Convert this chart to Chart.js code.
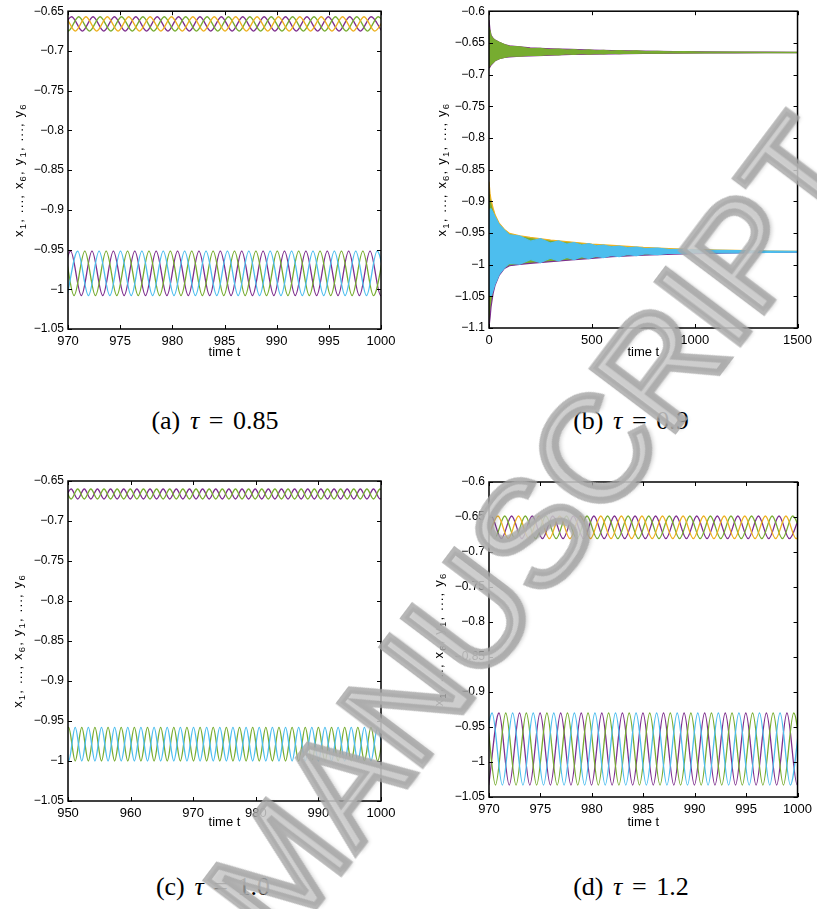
<!DOCTYPE html>
<html>
<head>
<meta charset="utf-8">
<script src="https://cdn.jsdelivr.net/npm/chart.js@4.4.1/dist/chart.umd.min.js"></script>
<style>
  body { margin: 0; background: #fff; width: 817px; height: 909px; position: relative; overflow: hidden; }
  canvas { position: absolute; }
  .cap { position: absolute; transform: translate(-50%, -50%); white-space: nowrap; word-spacing: 0.12em;
         font-family: "Liberation Serif", "DejaVu Serif", serif; font-size: 26px; color: #000; }
  .cap i { font-style: italic; }
  #stamp { position: absolute; left: 535px; top: 530px; pointer-events: none; white-space: nowrap;
           transform: translate(-50%, -50%) rotate(-53deg);
           font: 148px "Liberation Sans", Arial, sans-serif;
           color: rgba(205, 205, 205, 0.85);
           -webkit-text-stroke: 7px rgba(165, 165, 165, 0.8);
           text-shadow: 3px 4px 4px rgba(0, 0, 0, 0.2); }
</style>
</head>
<body>
<canvas id="pa" width="408" height="360" style="left:0;top:0"></canvas>
<canvas id="pb" width="407" height="360" style="left:410px;top:0"></canvas>
<canvas id="pc" width="408" height="390" style="left:0;top:440px"></canvas>
<canvas id="pd" width="407" height="390" style="left:410px;top:440px"></canvas>
<div class="cap" style="left:215px;top:421px">(a) <i>τ</i> = 0.85</div>
<div class="cap" style="left:631px;top:421px">(b) <i>τ</i> = 0.9</div>
<div class="cap" style="left:213px;top:887px">(c) <i>τ</i> = 1.0</div>
<div class="cap" style="left:631px;top:887px">(d) <i>τ</i> = 1.2</div>
<div id="stamp">MANUSCRIPT</div>
<script>
// ---- (a) tau = 0.85 : turning points (trough, peak, trough, ...) of each trace
const aXTicks = [970, 975, 980, 985, 990, 995, 1000];
const aYTicks = [-0.65, -0.7, -0.75, -0.8, -0.85, -0.9, -0.95, -1, -1.05];
const aTopLevels = [-0.657, -0.675];
const aBotLevels = [-0.952, -1.008];
const aTopPurple = [969.33, 970.35, 971.38, 972.40, 973.43, 974.45, 975.48, 976.50, 977.53, 978.55, 979.58, 980.60, 981.63, 982.65, 983.68, 984.70, 985.73, 986.75, 987.78, 988.80, 989.83, 990.85, 991.88, 992.90, 993.93, 994.95, 995.98, 997.00, 998.03, 999.05, 1000.08];
const aTopGreen = [967.96, 968.98, 970.01, 971.03, 972.06, 973.08, 974.11, 975.13, 976.16, 977.18, 978.21, 979.23, 980.26, 981.28, 982.31, 983.33, 984.36, 985.38, 986.41, 987.43, 988.46, 989.48, 990.51, 991.53, 992.56, 993.58, 994.61, 995.63, 996.66, 997.68, 998.71, 999.73, 1000.76];
const aTopYellow = [968.65, 969.67, 970.70, 971.72, 972.75, 973.77, 974.80, 975.82, 976.85, 977.87, 978.90, 979.92, 980.95, 981.97, 983.00, 984.02, 985.05, 986.07, 987.10, 988.12, 989.15, 990.17, 991.20, 992.22, 993.25, 994.27, 995.30, 996.32, 997.35, 998.37, 999.40, 1000.42];
const aBotPurple = [969.23, 970.25, 971.28, 972.30, 973.33, 974.35, 975.38, 976.40, 977.43, 978.45, 979.48, 980.50, 981.53, 982.55, 983.58, 984.60, 985.63, 986.65, 987.68, 988.70, 989.73, 990.75, 991.78, 992.80, 993.83, 994.85, 995.88, 996.90, 997.93, 998.95, 999.98, 1001.00];
const aBotCyan = [969.91, 970.93, 971.96, 972.98, 974.01, 975.03, 976.06, 977.08, 978.11, 979.13, 980.16, 981.18, 982.21, 983.23, 984.26, 985.28, 986.31, 987.33, 988.36, 989.38, 990.41, 991.43, 992.46, 993.48, 994.51, 995.53, 996.56, 997.58, 998.61, 999.63, 1000.66];
const aBotGreen = [968.54, 969.56, 970.58, 971.61, 972.63, 973.66, 974.68, 975.71, 976.73, 977.76, 978.78, 979.81, 980.83, 981.86, 982.88, 983.91, 984.93, 985.96, 986.98, 988.01, 989.03, 990.06, 991.08, 992.11, 993.13, 994.16, 995.18, 996.21, 997.23, 998.26, 999.28, 1000.31];

// ---- (b) tau = 0.9 : envelopes of the decaying oscillation
const bXTicks = [0, 500, 1000, 1500];
const bYTicks = [-0.6, -0.65, -0.7, -0.75, -0.8, -0.85, -0.9, -0.95, -1, -1.05, -1.1];
const bOuterT = [0, 5, 10, 20, 30, 50, 75, 100, 150, 200, 300, 400, 500, 600, 750, 900, 1050, 1200, 1350, 1500];
const bTopOuterHi = [-0.614, -0.630, -0.638, -0.643, -0.6457, -0.649, -0.6526, -0.6547, -0.6563, -0.658, -0.6594, -0.6604, -0.6615, -0.662, -0.6628, -0.6636, -0.6642, -0.6645, -0.6647, -0.665];
const bTopOuterLo = [-0.690, -0.688, -0.685, -0.6815, -0.678, -0.675, -0.673, -0.672, -0.671, -0.6705, -0.6694, -0.6683, -0.6678, -0.6673, -0.6668, -0.6662, -0.666, -0.6657, -0.6655, -0.6653];
const bBotOuterHi = [-0.869, -0.8876, -0.898, -0.911, -0.9218, -0.935, -0.9443, -0.9507, -0.9544, -0.957, -0.9612, -0.9644, -0.9675, -0.9696, -0.9728, -0.9749, -0.9765, -0.9775, -0.9785, -0.979];
const bBotOuterLo = [-1.098, -1.0847, -1.0664, -1.0453, -1.032, -1.0164, -1.0059, -1.0017, -0.9996, -0.998, -0.9953, -0.9927, -0.990, -0.9875, -0.985, -0.9833, -0.9822, -0.9814, -0.9807, -0.9801];
const bLensT = [0, 5, 10, 20, 30, 50, 75, 99, 150, 203, 250, 298, 338, 378, 414, 450, 485, 521, 557, 593, 633, 673, 717, 761, 820, 880, 950, 1024, 1200, 1350, 1500];
const bTopGreenHi = [-0.625, -0.632, -0.639, -0.6435, -0.646, -0.6492, -0.6528, -0.6555, -0.6564, -0.6595, -0.6588, -0.6608, -0.6598, -0.6615, -0.6606, -0.6622, -0.6612, -0.6627, -0.6618, -0.6631, -0.6622, -0.6634, -0.6626, -0.6637, -0.6632, -0.664, -0.6638, -0.6644, -0.6646, -0.6648, -0.665];
const bTopGreenLo = [-0.686, -0.686, -0.684, -0.681, -0.6778, -0.6748, -0.6728, -0.671, -0.6709, -0.6692, -0.6699, -0.668, -0.669, -0.6672, -0.6681, -0.6668, -0.6677, -0.6665, -0.6674, -0.6663, -0.6671, -0.6661, -0.6667, -0.666, -0.6663, -0.6659, -0.666, -0.6657, -0.6656, -0.6655, -0.6653];
const bBotCyanHi = [-0.915, -0.912, -0.912, -0.918, -0.925, -0.937, -0.9455, -0.953, -0.9548, -0.963, -0.959, -0.966, -0.9625, -0.9675, -0.9652, -0.969, -0.967, -0.9705, -0.969, -0.972, -0.9708, -0.9735, -0.9722, -0.9748, -0.974, -0.9762, -0.9758, -0.977, -0.9778, -0.9786, -0.979];
const bBotCyanLo = [-1.04, -1.05, -1.05, -1.04, -1.03, -1.015, -1.005, -0.998, -0.9994, -0.992, -0.9968, -0.990, -0.9942, -0.9885, -0.9922, -0.9875, -0.9905, -0.9865, -0.989, -0.9855, -0.9872, -0.984, -0.9858, -0.9828, -0.9842, -0.9818, -0.9828, -0.981, -0.9813, -0.9806, -0.9801];

// ---- (c) tau = 1.0
const cXTicks = [950, 960, 970, 980, 990, 1000];
const cYTicks = [-0.65, -0.7, -0.75, -0.8, -0.85, -0.9, -0.95, -1, -1.05];
const cTopLevels = [-0.660, -0.6725];
const cBotLevels = [-0.958, -1.000];
const cTopTurns = [948.40, 949.45, 950.50, 951.55, 952.60, 953.65, 954.70, 955.75, 956.80, 957.85, 958.90, 959.95, 961.00, 962.05, 963.10, 964.15, 965.20, 966.25, 967.30, 968.35, 969.40, 970.45, 971.50, 972.55, 973.60, 974.65, 975.70, 976.75, 977.80, 978.85, 979.90, 980.95, 982.00, 983.05, 984.10, 985.15, 986.20, 987.25, 988.30, 989.35, 990.40, 991.45, 992.50, 993.55, 994.60, 995.65, 996.70, 997.75, 998.80, 999.85, 1000.90];
const cBotTurns = [948.00, 949.05, 950.10, 951.15, 952.20, 953.25, 954.30, 955.35, 956.40, 957.45, 958.50, 959.55, 960.60, 961.65, 962.70, 963.75, 964.80, 965.85, 966.90, 967.95, 969.00, 970.05, 971.10, 972.15, 973.20, 974.25, 975.30, 976.35, 977.40, 978.45, 979.50, 980.55, 981.60, 982.65, 983.70, 984.75, 985.80, 986.85, 987.90, 988.95, 990.00, 991.05, 992.10, 993.15, 994.20, 995.25, 996.30, 997.35, 998.40, 999.45, 1000.50];
const cTopGreen = cTopTurns;
const cTopPurple = cTopTurns.slice(1);
const cBotCyan = cBotTurns;
const cBotGreen = cBotTurns.slice(1);

// ---- (d) tau = 1.2
const dXTicks = [970, 975, 980, 985, 990, 995, 1000];
const dYTicks = [-0.6, -0.65, -0.7, -0.75, -0.8, -0.85, -0.9, -0.95, -1, -1.05];
const dTopLevels = [-0.6486, -0.681];
const dBotLevels = [-0.930, -1.033];
const dTopPurple = [969.2, 970.2, 971.2, 972.2, 973.2, 974.2, 975.2, 976.2, 977.2, 978.2, 979.2, 980.2, 981.2, 982.2, 983.2, 984.2, 985.2, 986.2, 987.2, 988.2, 989.2, 990.2, 991.2, 992.2, 993.2, 994.2, 995.2, 996.2, 997.2, 998.2, 999.2, 1000.2];
const dTopYellow = [969.87, 970.87, 971.87, 972.87, 973.87, 974.87, 975.87, 976.87, 977.87, 978.87, 979.87, 980.87, 981.87, 982.87, 983.87, 984.87, 985.87, 986.87, 987.87, 988.87, 989.87, 990.87, 991.87, 992.87, 993.87, 994.87, 995.87, 996.87, 997.87, 998.87, 999.87, 1000.87];
const dTopGreen = [968.53, 969.53, 970.53, 971.53, 972.53, 973.53, 974.53, 975.53, 976.53, 977.53, 978.53, 979.53, 980.53, 981.53, 982.53, 983.53, 984.53, 985.53, 986.53, 987.53, 988.53, 989.53, 990.53, 991.53, 992.53, 993.53, 994.53, 995.53, 996.53, 997.53, 998.53, 999.53, 1000.53];
const dBotCyan = [969.3, 970.3, 971.3, 972.3, 973.3, 974.3, 975.3, 976.3, 977.3, 978.3, 979.3, 980.3, 981.3, 982.3, 983.3, 984.3, 985.3, 986.3, 987.3, 988.3, 989.3, 990.3, 991.3, 992.3, 993.3, 994.3, 995.3, 996.3, 997.3, 998.3, 999.3, 1000.3];
const dBotPurple = [969.97, 970.97, 971.97, 972.97, 973.97, 974.97, 975.97, 976.97, 977.97, 978.97, 979.97, 980.97, 981.97, 982.97, 983.97, 984.97, 985.97, 986.97, 987.97, 988.97, 989.97, 990.97, 991.97, 992.97, 993.97, 994.97, 995.97, 996.97, 997.97, 998.97, 999.97, 1000.97];
const dBotGreen = [968.63, 969.63, 970.63, 971.63, 972.63, 973.63, 974.63, 975.63, 976.63, 977.63, 978.63, 979.63, 980.63, 981.63, 982.63, 983.63, 984.63, 985.63, 986.63, 987.63, 988.63, 989.63, 990.63, 991.63, 992.63, 993.63, 994.63, 995.63, 996.63, 997.63, 998.63, 999.63, 1000.63];

const PURPLE = '#7E2F8E', GREEN = '#77AC30', CYAN = '#4DBEEE', YELLOW = '#EDB120';
// y label pieces: [text, isSubscript]
const Y_TITLE = [['x', 0], ['1', 1], [', ..., ', 0], ['x', 0], ['6', 1], [', ', 0], ['y', 0], ['1', 1], [', ..., ', 0], ['y', 0], ['6', 1]];
const FONT = '"Liberation Sans", Arial, sans-serif';

Chart.defaults.font.family = FONT;
Chart.defaults.color = '#000';

const fmt = v => (v < 0 ? '\u2212' : '') + Math.abs(v);

// trough first, then alternating peak / trough; the library smooths between them
function wave(turns, levels, color) {
  return {
    data: turns.map((t, i) => ({ x: t, y: levels[(i + 1) % 2] })),
    borderColor: color, borderWidth: 1.3, pointRadius: 0,
    cubicInterpolationMode: 'monotone', fill: false
  };
}

// filled region between an upper and a lower envelope
function band(times, hi, lo, fillColor, hiColor, loColor) {
  const base = { backgroundColor: fillColor, borderWidth: 1.2, pointRadius: 0, tension: 0 };
  return [
    { ...base, data: times.map((t, i) => ({ x: t, y: hi[i] })), borderColor: hiColor, fill: false },
    { ...base, data: times.map((t, i) => ({ x: t, y: lo[i] })), borderColor: loColor, fill: '-1' }
  ];
}

// full box with inward tick marks on all four sides, plus the rotated y label with subscripts
const frameBox = {
  id: 'frameBox',
  afterDraw(chart, args, opts) {
    const { ctx, chartArea: { left, top, right, bottom }, scales: { x, y } } = chart;
    ctx.save();
    ctx.strokeStyle = '#000';
    ctx.lineWidth = 1;
    ctx.beginPath();
    x.ticks.forEach(t => {
      const px = Math.round(x.getPixelForValue(t.value)) + 0.5;
      ctx.moveTo(px, bottom); ctx.lineTo(px, bottom - 4);
      ctx.moveTo(px, top); ctx.lineTo(px, top + 4);
    });
    y.ticks.forEach(t => {
      const py = Math.round(y.getPixelForValue(t.value)) + 0.5;
      ctx.moveTo(left, py); ctx.lineTo(left + 4, py);
      ctx.moveTo(right, py); ctx.lineTo(right - 4, py);
    });
    ctx.stroke();
    ctx.lineWidth = 1.5;
    ctx.strokeRect(left, top, right - left, bottom - top);

    const main = '13px ' + FONT, sub = '9.5px ' + FONT;
    ctx.letterSpacing = '1.2px';
    let total = 0;
    Y_TITLE.forEach(([s, isSub]) => { ctx.font = isSub ? sub : main; total += ctx.measureText(s).width; });
    ctx.translate(opts.x, (top + bottom) / 2);
    ctx.rotate(-Math.PI / 2);
    ctx.fillStyle = '#000';
    ctx.textBaseline = 'alphabetic';
    let cx = -total / 2;
    Y_TITLE.forEach(([s, isSub]) => {
      ctx.font = isSub ? sub : main;
      ctx.fillText(s, cx, isSub ? 7.5 : 4.5);
      cx += ctx.measureText(s).width;
    });
    ctx.restore();
  }
};

function panel(id, datasets, xr, xTicks, yr, yTicks, box) {
  return new Chart(document.getElementById(id), {
    type: 'line',
    data: { datasets },
    options: {
      responsive: false,
      animation: false,
      events: [],
      layout: { padding: { left: 0, top: box.top, right: box.right, bottom: 0 } },
      plugins: { legend: { display: false }, tooltip: { enabled: false }, frameBox: { x: box.tx } },
      scales: {
        x: {
          type: 'linear', min: xr[0], max: xr[1],
          afterBuildTicks: s => { s.ticks = xTicks.map(v => ({ value: v })); },
          afterFit: s => { s.height = box.xh; },
          grid: { display: false, drawTicks: false },
          border: { display: false },
          ticks: { padding: 5, maxRotation: 0, font: { size: 13 }, callback: v => fmt(v) },
          title: { display: true, text: 'time t', font: { size: 13 }, padding: { top: 0, bottom: 0 } }
        },
        y: {
          type: 'linear', min: yr[0], max: yr[1],
          afterBuildTicks: s => { s.ticks = yTicks.map(v => ({ value: v })); },
          afterFit: s => { s.width = box.yw; },
          grid: { display: false, drawTicks: false },
          border: { display: false },
          ticks: { padding: 4, font: { size: 12 }, callback: v => fmt(v) }
        }
      }
    },
    plugins: [frameBox]
  });
}

panel('pa', [
  wave(aTopYellow, aTopLevels, YELLOW),
  wave(aTopGreen, aTopLevels, GREEN),
  wave(aTopPurple, aTopLevels, PURPLE),
  wave(aBotCyan, aBotLevels, CYAN),
  wave(aBotGreen, aBotLevels, GREEN),
  wave(aBotPurple, aBotLevels, PURPLE)
], [970, 1000], aXTicks, [-1.05, -0.65], aYTicks, { top: 10, right: 27, xh: 31, yw: 68, tx: 18 });

panel('pb', [
  ...band(bLensT, bTopGreenHi, bTopGreenLo, GREEN, GREEN, GREEN),
  ...band(bLensT, bBotCyanHi, bBotCyanLo, CYAN, CYAN, CYAN),
  ...band(bOuterT, bTopOuterHi, bTopOuterLo, YELLOW, PURPLE, PURPLE),
  ...band(bOuterT, bBotOuterHi, bBotOuterLo, GREEN, YELLOW, PURPLE)
], [0, 1500], bXTicks, [-1.1, -0.6], bYTicks, { top: 11, right: 14, xh: 32, yw: 79, tx: 31 });

panel('pc', [
  wave(cTopGreen, cTopLevels, GREEN),
  wave(cTopPurple, cTopLevels, PURPLE),
  wave(cBotCyan, cBotLevels, CYAN),
  wave(cBotGreen, cBotLevels, GREEN)
], [950, 1000], cXTicks, [-1.05, -0.65], cYTicks, { top: 41, right: 27, xh: 29, yw: 68, tx: 17 });

panel('pd', [
  wave(dTopYellow, dTopLevels, YELLOW),
  wave(dTopGreen, dTopLevels, GREEN),
  wave(dTopPurple, dTopLevels, PURPLE),
  wave(dBotCyan, dBotLevels, CYAN),
  wave(dBotGreen, dBotLevels, GREEN),
  wave(dBotPurple, dBotLevels, PURPLE)
], [970, 1000], dXTicks, [-1.05, -0.6], dYTicks, { top: 42, right: 14, xh: 33, yw: 79, tx: 28 });
</script>
</body>
</html>
